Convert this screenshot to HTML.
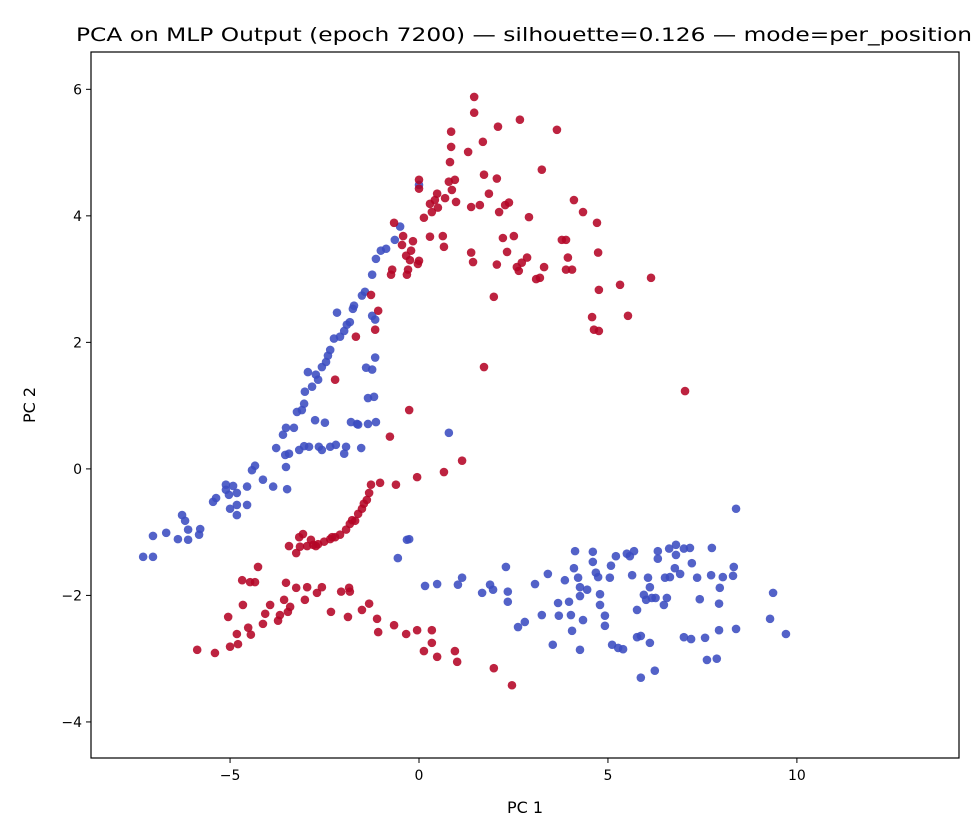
<!DOCTYPE html>
<html><head><meta charset="utf-8">
<style>
body{margin:0;background:#fff;}
svg{display:block;font-family:"DejaVu Sans","Liberation Sans",sans-serif;}
</style></head>
<body>
<svg id="chart" width="980" height="840" viewBox="0 0 980 840" xmlns="http://www.w3.org/2000/svg">
<rect width="980" height="840" fill="#fff"/>
<text x="76" y="41" font-size="19" textLength="896" lengthAdjust="spacingAndGlyphs" fill="#000">PCA on MLP Output (epoch 7200) — silhouette=0.126 — mode=per_position</text>
<g id="marks"></g>
<rect x="91" y="52" width="868" height="706" fill="none" stroke="#000" stroke-width="1.2"/>
<g id="xticks"></g><g id="yticks"></g>
<text x="525" y="813" font-size="16" text-anchor="middle">PC 1</text>
<text transform="translate(35,405) rotate(-90)" font-size="16" text-anchor="middle">PC 2</text>
</svg>
<script>
const xTicks=[-5,0,5,10];
const yTicks=[-4,-2,0,2,4,6];
const blueX=[-7.30,-7.04,-7.04,-6.69,-6.38,-6.27,-6.19,-6.11,-6.11,-5.79,-5.82,-5.45,-5.37,-5.11,-5.11,-5.03,-4.92,-4.82,-4.82,-4.82,-4.55,-4.55,-4.42,-4.34,-4.13,-3.86,-3.49,-3.52,-3.44,-3.17,-3.04,-2.91,-2.65,-2.75,-2.57,-2.35,-2.20,-1.98,-1.93,-1.80,-1.64,-1.53,-1.35,-1.14,-3.78,-3.60,-3.52,-3.31,-3.23,-3.10,-3.04,-2.83,-2.73,-2.57,-2.46,-2.41,-2.25,-2.09,-1.98,-1.91,-1.83,-1.75,-2.17,-1.72,-1.51,-1.43,-1.16,-1.24,-1.24,-1.14,-1.01,-0.87,-0.64,-1.35,-1.40,-1.19,-1.61,-2.49,-1.16,-1.24,-3.54,-5.00,-0.32,-0.26,-0.56,0.00,-0.50,-3.02,-2.67,-2.35,-2.94,0.79,
0.48,0.16,1.03,1.14,1.88,1.67,1.96,2.30,2.35,2.35,2.62,2.80,3.07,3.25,3.41,3.68,3.70,3.86,3.97,4.02,4.13,4.10,4.21,4.26,4.26,4.34,4.26,4.05,4.45,4.60,4.60,4.68,4.74,4.79,4.79,4.92,4.92,5.11,5.27,5.40,5.05,5.08,5.21,5.50,5.58,5.69,5.64,5.77,5.77,5.87,5.95,6.01,6.06,6.11,6.16,6.26,6.11,6.24,6.32,6.32,6.48,6.51,6.56,6.62,6.64,6.80,6.80,6.77,6.91,7.01,7.01,7.17,7.22,7.36,7.43,7.57,7.62,7.73,7.75,7.88,7.94,7.94,7.96,8.04,8.31,8.39,8.33,9.37,9.29,9.71,8.39,3.54,7.20,5.87];
const blueY=[-1.39,-1.39,-1.06,-1.01,-1.11,-0.73,-0.82,-0.96,-1.12,-0.95,-1.04,-0.52,-0.46,-0.33,-0.25,-0.41,-0.27,-0.57,-0.73,-0.38,-0.57,-0.28,-0.02,0.05,-0.17,-0.28,-0.32,0.03,0.24,0.30,0.36,0.35,0.35,0.77,0.30,0.35,0.38,0.24,0.35,0.74,0.71,0.33,0.71,0.74,0.33,0.54,0.65,0.65,0.90,0.93,1.03,1.30,1.49,1.61,1.69,1.79,2.06,2.09,2.18,2.28,2.32,2.53,2.47,2.58,2.74,2.80,2.36,2.42,3.07,3.32,3.45,3.48,3.62,1.12,1.60,1.14,0.70,0.73,1.76,1.57,0.22,-0.63,-1.12,-1.11,-1.41,4.49,3.83,1.22,1.41,1.88,1.53,0.57,
-1.82,-1.85,-1.83,-1.72,-1.83,-1.96,-1.91,-1.55,-1.94,-2.10,-2.50,-2.42,-1.82,-2.31,-1.66,-2.12,-2.32,-1.76,-2.10,-2.31,-1.30,-1.57,-1.72,-1.87,-2.01,-2.39,-2.86,-2.56,-1.91,-1.31,-1.47,-1.64,-1.71,-1.98,-2.15,-2.48,-2.32,-2.78,-2.83,-2.85,-1.72,-1.53,-1.38,-1.34,-1.38,-1.30,-1.68,-2.23,-2.66,-3.30,-1.99,-2.07,-1.72,-1.87,-2.04,-2.04,-2.75,-3.19,-1.30,-1.42,-2.15,-1.72,-2.04,-1.26,-1.71,-1.36,-1.20,-1.57,-1.66,-2.66,-1.26,-1.25,-1.49,-1.72,-2.06,-2.67,-3.02,-1.68,-1.25,-3.00,-2.55,-2.13,-1.88,-1.71,-1.69,-2.53,-1.55,-1.96,-2.37,-2.61,-0.63,-2.78,-2.69,-2.64];
const redX=[1.46,1.46,0.85,0.85,0.82,2.09,2.67,3.65,1.69,1.30,3.25,1.72,2.06,1.85,0.95,0.79,0.00,0.00,0.87,0.98,0.48,0.13,0.29,0.50,0.69,0.42,0.34,1.38,1.61,2.28,2.38,2.12,2.91,4.10,4.34,4.71,3.78,3.89,3.94,4.05,2.51,2.22,2.33,2.06,2.59,2.64,2.72,2.86,3.10,3.20,3.31,1.38,1.43,0.63,0.66,0.29,-0.45,-0.66,-0.42,-0.34,-0.24,-0.29,-0.32,-0.74,-0.03,-0.21,-0.16,0.00,-0.71,-1.27,-1.08,-1.16,-1.67,-2.22,-0.26,-0.77,1.14,0.66,-0.05,1.98,4.76,4.58,4.76,4.63,5.53,6.14,7.04,4.74,5.32,1.72,3.89,-0.61,
-1.27,-1.32,-1.38,-1.46,-1.51,-1.61,-1.69,-1.83,-1.93,-2.09,-2.22,-2.35,-2.51,-2.67,-2.80,-2.96,-3.15,-3.44,-3.17,-3.07,-2.86,-1.03,-1.77,-2.30,-2.73,-3.25,-4.26,-4.34,-4.47,-3.25,-2.96,-3.52,-3.57,-3.41,-3.47,-3.68,-3.73,-4.07,-4.13,-4.52,-4.45,-4.82,-4.79,-5.00,-5.40,-5.87,-5.05,-4.66,-3.94,-3.02,-2.70,-2.57,-2.33,-2.06,-1.83,-1.51,-1.32,-1.11,-1.08,-1.88,-1.85,-0.66,-0.34,-0.05,0.34,0.34,0.48,0.13,0.95,1.01,1.98,2.46,-4.68];
const redY=[5.88,5.63,5.33,5.09,4.85,5.41,5.52,5.36,5.17,5.01,4.73,4.65,4.59,4.35,4.57,4.54,4.57,4.43,4.41,4.22,4.35,3.97,4.19,4.13,4.28,4.25,4.06,4.14,4.17,4.17,4.21,4.06,3.98,4.25,4.06,3.89,3.62,3.62,3.34,3.15,3.68,3.65,3.43,3.23,3.19,3.13,3.26,3.34,3.00,3.02,3.19,3.42,3.27,3.68,3.51,3.67,3.54,3.89,3.68,3.37,3.30,3.15,3.07,3.07,3.24,3.45,3.60,3.29,3.15,2.75,2.50,2.20,2.09,1.41,0.93,0.51,0.13,-0.05,-0.13,2.72,2.83,2.40,2.18,2.20,2.42,3.02,1.23,3.42,2.91,1.61,3.15,-0.25,
-0.25,-0.38,-0.49,-0.55,-0.63,-0.71,-0.82,-0.87,-0.96,-1.04,-1.08,-1.11,-1.15,-1.19,-1.20,-1.22,-1.23,-1.22,-1.08,-1.03,-1.12,-0.22,-0.81,-1.08,-1.22,-1.33,-1.55,-1.79,-1.79,-1.88,-1.87,-1.80,-2.07,-2.18,-2.26,-2.31,-2.40,-2.29,-2.45,-2.51,-2.62,-2.61,-2.77,-2.81,-2.91,-2.86,-2.34,-2.15,-2.15,-2.07,-1.96,-1.87,-2.26,-1.94,-1.94,-2.23,-2.13,-2.37,-2.58,-2.34,-1.88,-2.47,-2.61,-2.55,-2.55,-2.75,-2.97,-2.88,-2.88,-3.05,-3.15,-3.42,-1.76];
const X0=91,X1=959,Y0=52,Y1=758,xmin=-8.68,xmax=14.29,ymin=-4.57,ymax=6.59;
function sx(v){return X0+(v-xmin)/(xmax-xmin)*(X1-X0);}
function sy(v){return Y1-(v-ymin)/(ymax-ymin)*(Y1-Y0);}
const NS="http://www.w3.org/2000/svg";
const marks=document.getElementById('marks');
function dots(xs,ys,col,name){for(let i=0;i<xs.length;i++){const c=document.createElementNS(NS,'circle');c.setAttribute('cx',sx(xs[i]));c.setAttribute('cy',sy(ys[i]));c.setAttribute('r',4.3);c.setAttribute('fill',col);c.setAttribute('fill-opacity',0.88);


marks.appendChild(c);}}
dots(blueX,blueY,'#3b4cc0','point-blue');
dots(redX,redY,'#b40426','point-red');
const xt=document.getElementById('xticks');
xTicks.forEach(v=>{const x=sx(v);const l=document.createElementNS(NS,'line');l.setAttribute('x1',x);l.setAttribute('x2',x);l.setAttribute('y1',Y1);l.setAttribute('y2',Y1+5);l.setAttribute('stroke','#000');


xt.appendChild(l);const t=document.createElementNS(NS,'text');t.setAttribute('x',x);t.setAttribute('y',Y1+22);t.setAttribute('font-size','14');t.setAttribute('text-anchor','middle');t.textContent=v<0?'\u2212'+Math.abs(v):v;


xt.appendChild(t);});
const yt=document.getElementById('yticks');
yTicks.forEach(v=>{const y=sy(v);const l=document.createElementNS(NS,'line');l.setAttribute('x1',X0-5);l.setAttribute('x2',X0);l.setAttribute('y1',y);l.setAttribute('y2',y);l.setAttribute('stroke','#000');


yt.appendChild(l);const t=document.createElementNS(NS,'text');t.setAttribute('x',X0-9);t.setAttribute('y',y+5);t.setAttribute('font-size','14');t.setAttribute('text-anchor','end');t.textContent=v<0?'\u2212'+Math.abs(v):v;


yt.appendChild(t);});
</script>
</body></html>
